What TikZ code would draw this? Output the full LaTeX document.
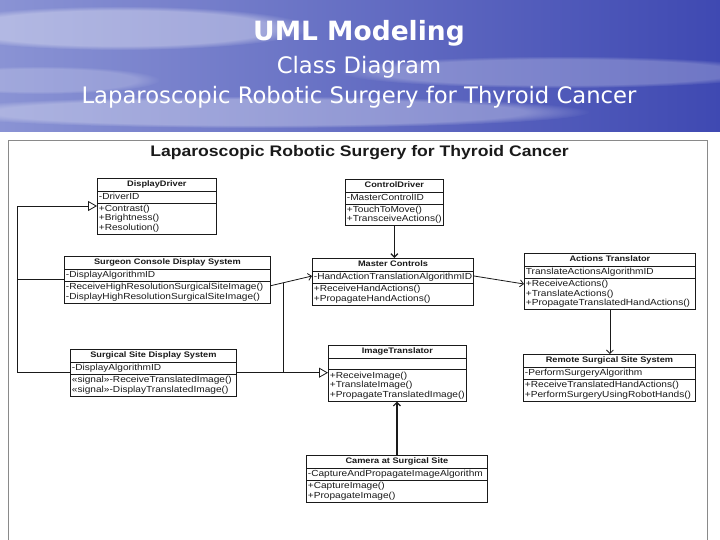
\documentclass[tikz,border=0pt]{standalone}
\usepackage{fontspec}
\usepackage{tikz}
\usetikzlibrary{shapes.multipart,arrows.meta,positioning,calc,fadings}
\newfontfamily\slidefont{DejaVu Sans}
\newfontfamily\umlfont[FakeStretch=1.15]{Liberation Sans}
\definecolor{skylight}{HTML}{8A93D4}
\definecolor{skydark}{HTML}{3F49B2}
\definecolor{frame}{HTML}{8A8A8A}
\definecolor{ink}{HTML}{1A1A1A}

% class box: name, attributes, operations
\newcommand\umlbox[3]{\rule[-2.2pt]{0pt}{8.6pt}{\fontsize{8}{9.6}\selectfont\bfseries #1}\nodepart{second}\rule[-1.6pt]{0pt}{7.8pt}#2\nodepart{third}#3}

\tikzset{
  umlclass/.style={rectangle split, rectangle split parts=3, draw=ink, line width=0.8pt, fill=white,
    rectangle split part align={center,left,left}, align=left, anchor=north west,
    inner xsep=1.5pt, inner ysep=1.6pt, text=ink, font=\umlfont\fontsize{8.8}{9.6}\selectfont},
  assoc/.style={draw=ink, line width=0.8pt, -{Straight Barb[length=3.5pt,width=7pt]}},
  inherit/.style={draw=ink, line width=0.8pt, -{Triangle[open,length=9pt,width=10pt]}},
  wire/.style={draw=ink, line width=0.8pt},
  cloud/.style={white, opacity=0.35, path fading=circle with fuzzy edge 20 percent},
  slidetitle/.style={text=white, font=\slidefont\fontsize{22.7}{26}\selectfont},
}

\begin{document}
\begin{tikzpicture}[x=1pt, y=-1pt]
    \useasboundingbox (0,0) rectangle (720,540);
    % slide background
    \shade[left color=skylight, right color=skydark] (0,0) rectangle (720,132);
    \fill[cloud] (120,28) ellipse (190 and 22);
    \fill[cloud, opacity=0.25] (560,72) ellipse (220 and 16);
    \fill[cloud, opacity=0.3] (260,112) ellipse (330 and 16);
    \fill[cloud, opacity=0.2] (40,80) ellipse (120 and 14);
    \fill[white] (0,132) rectangle (720,540);

    \node[slidetitle, font=\slidefont\bfseries\fontsize{26.5}{30}\selectfont] (head) at (359,33) {UML Modeling};
    \node[slidetitle] (sub) at (359,67) {Class Diagram};
    \node[slidetitle] (topic) at (359,97) {Laparoscopic Robotic Surgery for Thyroid Cancer};

    % diagram sheet
    \draw[frame, line width=0.8pt] (8,140) rectangle (707,545);
    \node[text=ink, font=\umlfont\bfseries\fontsize{15.3}{18}\selectfont] (sheet) at (359.5,153) {Laparoscopic Robotic Surgery for Thyroid Cancer};

    % classes
    \node[umlclass, minimum width=119] (disp) at (97,178) {\umlbox{DisplayDriver}{-DriverID}{+Contrast()\\+Brightness()\\+Resolution()}};
    \node[umlclass, minimum width=96] (ctrl) at (345,179) {\umlbox{ControlDriver}{-MasterControlID}{+TouchToMove()\\+TransceiveActions()}};
    \node[umlclass, minimum width=206] (console) at (64,256) {\umlbox{Surgeon Console Display System}{-DisplayAlgorithmID}{-ReceiveHighResolutionSurgicalSiteImage()\\-DisplayHighResolutionSurgicalSiteImage()}};
    \node[umlclass, minimum width=159] (master) at (312,258) {\umlbox{Master Controls}{-HandActionTranslationAlgorithmID}{+ReceiveHandActions()\\+PropagateHandActions()}};
    \node[umlclass, minimum width=171] (actions) at (524,253) {\umlbox{Actions Translator}{TranslateActionsAlgorithmID}{+ReceiveActions()\\+TranslateActions()\\+PropagateTranslatedHandActions()}};
    \node[umlclass, minimum width=166] (sitedisp) at (70,349) {\umlbox{Surgical Site Display System}{-DisplayAlgorithmID}{\guillemotleft signal\guillemotright -ReceiveTranslatedImage()\\\guillemotleft signal\guillemotright -DisplayTranslatedImage()}};
    \node[umlclass, minimum width=138] (imgtr) at (328,345) {\umlbox{ImageTranslator}{}{+ReceiveImage()\\+TranslateImage()\\+PropagateTranslatedImage()}};
    \node[umlclass, minimum width=172] (remote) at (523,354) {\umlbox{Remote Surgical Site System}{-PerformSurgeryAlgorithm}{+ReceiveTranslatedHandActions()\\+PerformSurgeryUsingRobotHands()}};
    \node[umlclass, minimum width=181] (camera) at (306,455) {\umlbox{Camera at Surgical Site}{-CaptureAndPropagateImageAlgorithm}{+CaptureImage()\\+PropagateImage()}};

    % generalisation bus on the left
    \coordinate (bus) at (17,206);
    \draw[inherit] (sitedisp.west) -| (bus) -- (bus -| disp.west);
    \draw[wire] (console.west) -- (console.west -| bus);

    % associations
    \draw[assoc, line width=1.2pt] (ctrl.south) -- (ctrl.south |- master.north);
    \draw[assoc] ([yshift=-6]console.east) -- coordinate[pos=0.31] (tap) ([yshift=-18]master.north west);
    \draw[assoc] ([yshift=-18]master.north east) -- ([yshift=-31]actions.north west);
    \draw[assoc] (actions.south) -- (actions.south |- remote.north);
    \draw[assoc, line width=1.2pt] (camera.north) -- (camera.north |- imgtr.south);
    \draw[inherit] (sitedisp.east) -- (sitedisp.east -| imgtr.west);
    \draw[wire] (tap) -- (tap |- sitedisp.east);
\end{tikzpicture}
\end{document}
